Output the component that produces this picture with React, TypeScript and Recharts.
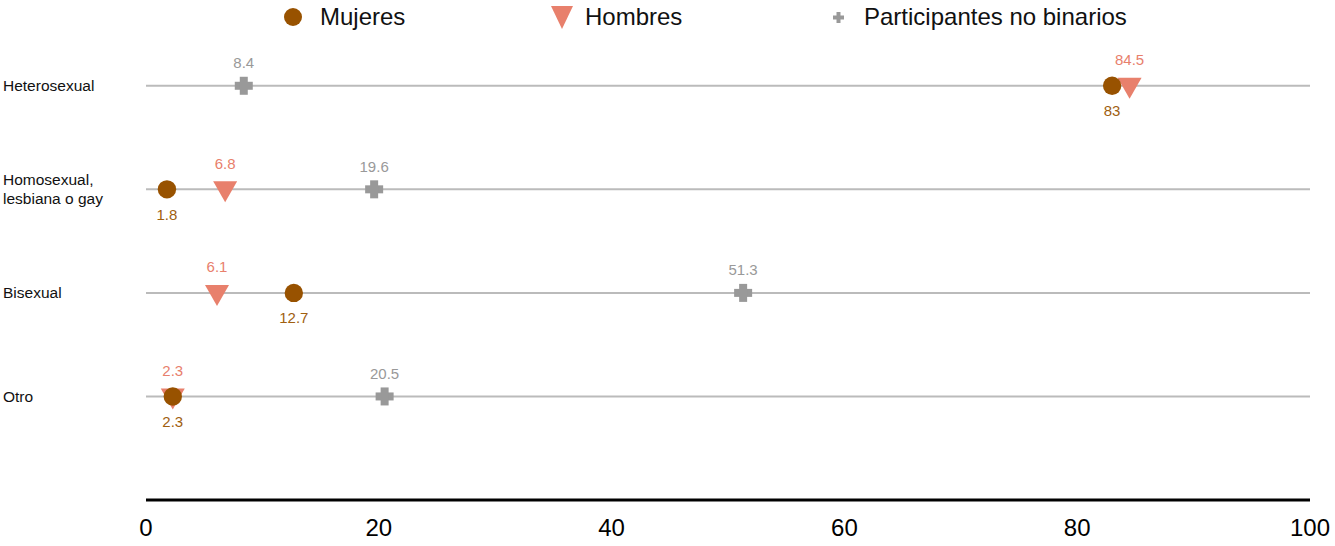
import { ScatterChart, Scatter, XAxis, YAxis, ReferenceLine } from 'recharts'

const FONT = "'Liberation Sans', Arial, Helvetica, sans-serif"

const categories = ['Heterosexual', 'Homosexual,\nlesbiana o gay', 'Bisexual', 'Otro']
const mujeres = [83, 1.8, 12.7, 2.3]
const hombres = [84.5, 6.8, 6.1, 2.3]
const noBinarios = [8.4, 19.6, 51.3, 20.5]
const xTicks = [0, 20, 40, 60, 80, 100]

const BROWN = '#985200'
const BROWN_TEXT = '#a0600f'
const SALMON = '#e8806c'
const GRAY = '#999999'

const toPoints = (vals: number[]) => vals.map((v, i) => ({ x: v, y: i }))

function CircleShape(props: any) {
  const { cx, cy, payload } = props
  return (
    <g>
      <circle cx={cx} cy={cy} r={9.2} fill={BROWN} />
      <text x={cx} y={cy + 25} textAnchor="middle" dominantBaseline="central" fontSize={15} fill={BROWN_TEXT} fontFamily={FONT}>
        {payload.x}
      </text>
    </g>
  )
}

function TriangleShape(props: any) {
  const { cx, cy, payload } = props
  return (
    <g>
      <path d={`M${cx - 12},${cy - 8}L${cx + 12},${cy - 8}L${cx},${cy + 13}Z`} fill={SALMON} />
      <text x={cx} y={cy - 26} textAnchor="middle" dominantBaseline="central" fontSize={15} fill={SALMON} fontFamily={FONT}>
        {payload.x}
      </text>
    </g>
  )
}

function PlusShape(props: any) {
  const { cx, cy, payload } = props
  return (
    <g>
      <rect x={cx - 9} y={cy - 4} width={18} height={8} fill={GRAY} />
      <rect x={cx - 4} y={cy - 9} width={8} height={18} fill={GRAY} />
      <text x={cx} y={cy - 23} textAnchor="middle" dominantBaseline="central" fontSize={15} fill={GRAY} fontFamily={FONT}>
        {payload.x}
      </text>
    </g>
  )
}

function CategoryTick(props: any) {
  const { y, payload } = props
  const lines = String(categories[payload.value] ?? '').split('\n')
  const start = y - ((lines.length - 1) * 19) / 2
  return (
    <text x={3} y={start} textAnchor="start" fontSize={15.5} fill="#111" fontFamily={FONT}>
      {lines.map((l, i) => (
        <tspan key={i} x={3} y={start + i * 19} dominantBaseline="central">{l}</tspan>
      ))}
    </text>
  )
}

function LegendBar() {
  const item = { position: 'absolute' as const, top: 3, fontSize: 24, fontFamily: FONT, color: '#111', lineHeight: '28px' }
  return (
    <div style={{ position: 'absolute', left: 0, top: 0, width: 1335, height: 34 }}>
      <svg style={{ position: 'absolute', left: 284, top: 8 }} width={18} height={18}>
        <circle cx={9} cy={9} r={9} fill={BROWN} />
      </svg>
      <div style={{ ...item, left: 320 }}>Mujeres</div>
      <svg style={{ position: 'absolute', left: 551, top: 6 }} width={22} height={23}>
        <path d="M0,0L22,0L11,23Z" fill={SALMON} />
      </svg>
      <div style={{ ...item, left: 585 }}>Hombres</div>
      <svg style={{ position: 'absolute', left: 833, top: 12 }} width={11} height={11}>
        <rect x={0} y={3.5} width={11} height={4} fill={GRAY} />
        <rect x={3.5} y={0} width={4} height={11} fill={GRAY} />
      </svg>
      <div style={{ ...item, left: 864 }}>Participantes no binarios</div>
    </div>
  )
}

export default function App() {
  return (
    <div style={{ position: 'absolute', left: 0, top: 0, width: 1335, height: 546, background: '#fff' }}>
      <LegendBar />
      <ScatterChart width={1335} height={546} margin={{ top: 34, right: 25, bottom: 0, left: 0 }}>
        <XAxis
          type="number"
          dataKey="x"
          domain={[0, 100]}
          ticks={xTicks}
          axisLine={{ stroke: '#000', strokeWidth: 3 }}
          tickLine={false}
          tickMargin={13}
          height={46}
          tick={{ fontSize: 24, fill: '#000', fontFamily: FONT }}
        />
        <YAxis
          type="number"
          dataKey="y"
          domain={[-0.5, 4]}
          reversed
          ticks={[0, 1, 2, 3]}
          axisLine={false}
          tickLine={false}
          width={146}
          tick={<CategoryTick />}
        />
        {categories.map((_, i) => (
          <ReferenceLine key={i} y={i} stroke="#bbbbbb" strokeWidth={2} />
        ))}
        <Scatter name="Hombres" data={toPoints(hombres)} shape={<TriangleShape />} isAnimationActive={false} />
        <Scatter name="Mujeres" data={toPoints(mujeres)} shape={<CircleShape />} isAnimationActive={false} />
        <Scatter name="Participantes no binarios" data={toPoints(noBinarios)} shape={<PlusShape />} isAnimationActive={false} />
      </ScatterChart>
    </div>
  )
}
